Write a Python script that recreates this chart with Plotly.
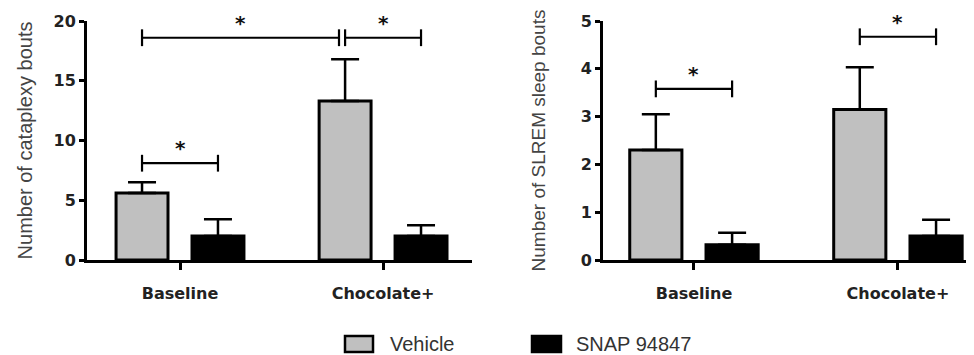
import plotly.graph_objects as go

categories = ["Baseline", "Chocolate+"]
series_names = ["Vehicle", "SNAP 94847"]

# Left panel: cataplexy bouts
cat_vehicle = [5.6, 13.3]
cat_vehicle_err = [0.9, 3.5]
cat_snap = [2.0, 2.0]
cat_snap_err = [1.4, 0.9]

# Right panel: SLREM sleep bouts
sl_vehicle = [2.3, 3.15]
sl_vehicle_err = [0.75, 0.88]
sl_snap = [0.32, 0.5]
sl_snap_err = [0.25, 0.34]

left_ticks = [0, 5, 10, 15, 20]
right_ticks = [0, 1, 2, 3, 4, 5]

# significance brackets: (cat_a, series_a, cat_b, series_b, height)
left_brackets = [(0, 0, 0, 1, 8.1), (0, 0, 1, 0, 18.6), (1, 0, 1, 1, 18.6)]
right_brackets = [(0, 0, 0, 1, 3.58), (1, 0, 1, 1, 4.67)]
star_label = "*"

fill_colors = ["#c0c0c0", "#000000"]
BARGAP = 0.252
BARGROUPGAP = 0.316
half_slot = (1 - BARGAP) / 4

# the page body adds an 8px offset; size the figure so it fills the 974x355 window
OFF = 8
W, H = 974 - OFF, 355 - OFF
ML, MR, MT, MB = 87 - OFF, 0, 21 - OFF, 95
PW, PH = W - ML - MR, H - MT - MB

FONT = "Liberation Sans, Arial, sans-serif"
BOLD = "DejaVu Sans, sans-serif"

fig = go.Figure()

def add_bars(vals_list, errs_list, xa, ya):
    for i, (vals, errs) in enumerate(zip(vals_list, errs_list)):
        fig.add_trace(go.Bar(
            x=[0, 1], y=vals, name=series_names[i], xaxis=xa, yaxis=ya,
            offsetgroup=str(i), showlegend=False,
            marker=dict(color=fill_colors[i], line=dict(color="black", width=3)),
            error_y=dict(type="data", array=errs, arrayminus=[0, 0], symmetric=False,
                         color="black", thickness=2.5, width=14),
        ))

add_bars([cat_vehicle, cat_snap], [cat_vehicle_err, cat_snap_err], "x", "y")
add_bars([sl_vehicle, sl_snap], [sl_vehicle_err, sl_snap_err], "x2", "y2")

def bar_x(cat, s):
    return cat + (-half_slot if s == 0 else half_slot)

def add_brackets(brackets, xa, ya):
    for j, (ca, sa, cb, sb, h) in enumerate(brackets):
        x0 = bar_x(ca, sa)
        x1 = bar_x(cb, sb)
        if ca != cb and any(b[0] == cb and b[1] == sb for k, b in enumerate(brackets) if k != j):
            x1 -= 0.03
        fig.add_trace(go.Scatter(
            x=[x0, x1], y=[h, h], mode="lines+markers", xaxis=xa, yaxis=ya,
            showlegend=False, hoverinfo="skip",
            line=dict(color="black", width=2.2),
            marker=dict(symbol="line-ns", size=12, line=dict(color="black", width=2.2)),
        ))
        fig.add_annotation(x=(x0 + x1) / 2, y=h, xref=xa, yref=ya, text=star_label,
                           showarrow=False, yanchor="bottom", yshift=1,
                           font=dict(family=BOLD, size=20, color="#111", weight="bold"))

add_brackets(left_brackets, "x", "y")
add_brackets(right_brackets, "x2", "y2")

# custom legend (larger swatches, like the original); positions in window pixels
legend_boxes_px = [(345, 373), (532, 561)]
legend_text_px = [388, 574]
legend_y_px = (336, 352)

def px_x(p):
    return (p - OFF - ML) / PW

def px_y(p):
    return (H - MB - (p - OFF)) / PH

for i, name in enumerate(series_names):
    x0, x1 = legend_boxes_px[i]
    fig.add_shape(type="rect", xref="paper", yref="paper",
                  x0=px_x(x0), x1=px_x(x1), y0=px_y(legend_y_px[1]), y1=px_y(legend_y_px[0]),
                  fillcolor=fill_colors[i], line=dict(color="black", width=2.5))
    fig.add_annotation(xref="paper", yref="paper", x=px_x(legend_text_px[i]),
                       y=px_y(sum(legend_y_px) / 2), text=name, showarrow=False,
                       xanchor="left", yanchor="middle",
                       font=dict(family=FONT, size=20, color="#333"))

axis_common = dict(showline=True, linecolor="black", linewidth=3, ticks="outside",
                   tickwidth=2.5, tickcolor="black", showgrid=False,
                   zeroline=False, mirror=False, automargin=False)

ytickfont = dict(family=BOLD, size=16, color="#222", weight="bold")
xtickfont = dict(family=BOLD, size=16, color="#222", weight="bold")

fig.update_layout(
    width=W, height=H,
    margin=dict(l=ML, r=MR, t=MT, b=MB),
    paper_bgcolor="white", plot_bgcolor="white",
    barmode="group", bargap=BARGAP, bargroupgap=BARGROUPGAP,
    showlegend=False,
    xaxis=dict(domain=[0, 385 / PW], range=[-0.458, 1.438], tickvals=[0, 1], ticktext=categories,
               tickfont=xtickfont, anchor="y", ticklen=7, ticklabelstandoff=10, **axis_common),
    yaxis=dict(range=[0, 20], tickvals=left_ticks, tickfont=ytickfont, anchor="x", ticklen=5,
               title=dict(text="Number of cataplexy bouts", standoff=16,
                          font=dict(family=FONT, size=20, color="#444")),
               **axis_common),
    xaxis2=dict(domain=[516 / PW, 1], range=[-0.446, 1.373], tickvals=[0, 1], ticktext=categories,
                tickfont=xtickfont, anchor="y2", ticklen=7, ticklabelstandoff=10, **axis_common),
    yaxis2=dict(range=[0, 5], tickvals=right_ticks, tickfont=ytickfont, anchor="x2", ticklen=5,
                title=dict(text="Number of SLREM sleep bouts", standoff=31,
                           font=dict(family=FONT, size=19, color="#444")),
                **axis_common),
)

fig.write_html("out.html")
